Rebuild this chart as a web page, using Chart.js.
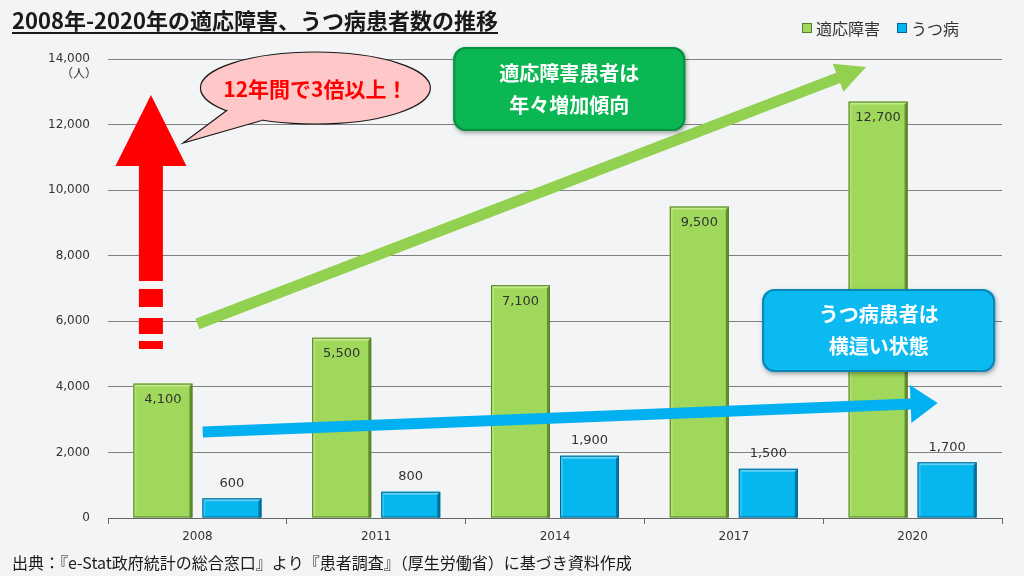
<!DOCTYPE html>
<html>
<head>
<meta charset="utf-8">
<script src="https://cdn.jsdelivr.net/npm/chart.js@4/dist/chart.umd.min.js"></script>
<style>
  html, body { margin: 0; padding: 0; background: #F3F4F6; }
  canvas { display: block; }
</style>
</head>
<body>
<canvas id="myChart" width="1024" height="576"></canvas>
<script>
// data
const years = ["2008", "2011", "2014", "2017", "2020"];
const adjustmentDisorder = [4100, 5500, 7100, 9500, 12700];
const depression = [600, 800, 1900, 1500, 1700];
const seriesNames = ["適応障害", "うつ病"];
const yMax = 14000;
const yStep = 2000;

const titleText = "2008年-2020年の適応障害、うつ病患者数の推移";
const sourceText = "出典：『e-Stat政府統計の総合窓口』より『患者調査』（厚生労働省）に基づき資料作成";
const unitText = "（人）";
const bubbleText = "12年間で3倍以上！";
const greenBoxText = ["適応障害患者は", "年々増加傾向"];
const blueBoxText = ["うつ病患者は", "横這い状態"];

const JP = '"Noto Sans CJK JP", "Noto Sans", sans-serif';
const NUM = '"DejaVu Sans", Verdana, sans-serif';

const GREEN = "#9FD85A", GREEN_DARK = "#557F26", GREEN_LIGHT = "#C3EB8C";
const BLUE = "#05B6EF", BLUE_DARK = "#05678F", BLUE_LIGHT = "#5FD3F7";

function fmt(v) {
  return v.toLocaleString("en-US");
}

// draw an arrow as one polygon
function arrow(ctx, x0, y0, x1, y1, shaft, headLen, headHalf, color) {
  const a = Math.atan2(y1 - y0, x1 - x0);
  const len = Math.hypot(x1 - x0, y1 - y0);
  ctx.save();
  ctx.translate(x0, y0);
  ctx.rotate(a);
  ctx.beginPath();
  ctx.moveTo(0, -shaft / 2);
  ctx.lineTo(len - headLen, -shaft / 2);
  ctx.lineTo(len - headLen, -headHalf);
  ctx.lineTo(len, 0);
  ctx.lineTo(len - headLen, headHalf);
  ctx.lineTo(len - headLen, shaft / 2);
  ctx.lineTo(0, shaft / 2);
  ctx.closePath();
  ctx.fillStyle = color;
  ctx.fill();
  ctx.restore();
}

function roundBox(ctx, cx, cy, w, h, r, fill, stroke, lines) {
  const x = cx - w / 2, y = cy - h / 2;
  ctx.save();
  ctx.shadowColor = "rgba(0,0,0,0.35)";
  ctx.shadowBlur = 4;
  ctx.shadowOffsetX = 1;
  ctx.shadowOffsetY = 2;
  ctx.beginPath();
  ctx.roundRect(x, y, w, h, r);
  ctx.fillStyle = fill;
  ctx.fill();
  ctx.restore();
  ctx.save();
  ctx.beginPath();
  ctx.roundRect(x + 1, y + 1, w - 2, h - 2, r);
  ctx.lineWidth = 2;
  ctx.strokeStyle = stroke;
  ctx.stroke();
  ctx.fillStyle = "#ffffff";
  ctx.font = "bold 20px " + JP;
  ctx.textAlign = "center";
  ctx.textBaseline = "middle";
  ctx.fillText(lines[0], cx, cy - 16);
  ctx.fillText(lines[1], cx, cy + 16);
  ctx.restore();
}

const backgroundPlugin = {
  id: "bg",
  beforeDraw(chart) {
    const ctx = chart.ctx;
    ctx.save();
    ctx.fillStyle = "#F3F4F6";
    ctx.fillRect(0, 0, chart.width, chart.height);
    ctx.restore();
  }
};

// bevel on bars + value labels
const barPlugin = {
  id: "bars",
  afterDatasetsDraw(chart) {
    const ctx = chart.ctx;
    chart.data.datasets.forEach((ds, di) => {
      const meta = chart.getDatasetMeta(di);
      const light = di === 0 ? GREEN_LIGHT : BLUE_LIGHT;
      const dark = di === 0 ? GREEN_DARK : BLUE_DARK;
      meta.data.forEach((bar, i) => {
        const l = bar.x - bar.width / 2, r = bar.x + bar.width / 2;
        const t = bar.y, b = bar.base, e = 3;
        ctx.save();
        ctx.fillStyle = light;
        ctx.beginPath();
        ctx.moveTo(l, t); ctx.lineTo(r, t); ctx.lineTo(r - e, t + e); ctx.lineTo(l + e, t + e);
        ctx.closePath(); ctx.fill();
        ctx.globalAlpha = 0.5;
        ctx.beginPath();
        ctx.moveTo(l, t); ctx.lineTo(l + e, t + e); ctx.lineTo(l + e, b); ctx.lineTo(l, b);
        ctx.closePath(); ctx.fill();
        ctx.globalAlpha = 0.8;
        ctx.fillStyle = dark;
        ctx.beginPath();
        ctx.moveTo(r, t); ctx.lineTo(r, b); ctx.lineTo(r - e, b); ctx.lineTo(r - e, t + e);
        ctx.closePath(); ctx.fill();
        ctx.globalAlpha = 1;
        ctx.strokeStyle = dark;
        ctx.lineWidth = 1;
        ctx.strokeRect(l + 0.5, t + 0.5, bar.width - 1, b - t - 1);
        ctx.fillStyle = "#333333";
        ctx.font = "13px " + NUM;
        ctx.textAlign = "center";
        ctx.textBaseline = "middle";
        const ly = di === 0 ? t + 16 : t - 15;
        ctx.fillText(fmt(ds.data[i]), bar.x, ly);
        ctx.restore();
      });
    });
  }
};

// title, legend, source, unit and callouts
const overlayPlugin = {
  id: "overlay",
  afterDraw(chart) {
    const ctx = chart.ctx;
    const xs = chart.scales.x, ys = chart.scales.y;
    const P = (i, v) => [xs.getPixelForValue(i), ys.getPixelForValue(v)];

    ctx.save();
    // title
    ctx.fillStyle = "#1a1a1a";
    ctx.font = "bold 22px " + JP;
    ctx.textBaseline = "middle";
    ctx.textAlign = "left";
    ctx.fillText(titleText, 12, 21);
    const tw = ctx.measureText(titleText).width;
    ctx.fillRect(12, 32, tw, 2);

    // legend
    ctx.font = "16px " + JP;
    let lx = 802;
    chart.data.datasets.forEach((ds) => {
      ctx.fillStyle = ds.backgroundColor;
      ctx.fillRect(lx, 23, 10, 10);
      ctx.strokeStyle = ds.borderColor;
      ctx.strokeRect(lx + 0.5, 23.5, 9, 9);
      ctx.fillStyle = "#333333";
      ctx.fillText(ds.label, lx + 14, 29);
      lx += 14 + ctx.measureText(ds.label).width + 17;
    });

    // unit
    ctx.font = "12px " + JP;
    ctx.textAlign = "right";
    ctx.fillStyle = "#333333";
    ctx.fillText(unitText, 97, 73);

    // source
    ctx.font = "16px " + JP;
    ctx.textAlign = "left";
    ctx.fillStyle = "#1a1a1a";
    ctx.fillText(sourceText, 12, 563);
    ctx.restore();

    // green trend arrow
    let a = P(0, 5917), b = P(3.74, 13756);
    arrow(ctx, a[0], a[1], b[0], b[1], 11, 30, 15, "#92D050");
    // blue trend arrow
    a = P(0.03, 2623); b = P(4.14, 3508);
    arrow(ctx, a[0], a[1], b[0], b[1], 11, 27, 19, "#00B0F0");

    // red up arrow with dashes
    ctx.save();
    ctx.fillStyle = "#FF0000";
    const rx = xs.getPixelForValue(-0.26);
    const tip = ys.getPixelForValue(12900), headBase = ys.getPixelForValue(10740);
    ctx.beginPath();
    ctx.moveTo(rx, tip);
    ctx.lineTo(rx + 35.5, headBase);
    ctx.lineTo(rx - 35.5, headBase);
    ctx.closePath();
    ctx.fill();
    const segs = [[10740, 7229], [6985, 6436], [6100, 5612], [5399, 5155]];
    segs.forEach((s) => {
      const y0 = ys.getPixelForValue(s[0]), y1 = ys.getPixelForValue(s[1]);
      ctx.fillRect(rx - 12, y0, 24, y1 - y0);
    });
    ctx.restore();

    // speech bubble
    ctx.save();
    const c = P(0.66, 13115);
    const tp = P(-0.08, 11438);
    ctx.beginPath();
    ctx.ellipse(c[0], c[1], 115, 36, 0, 0, Math.PI * 2);
    ctx.fillStyle = "#FFC8C8";
    ctx.fill();
    ctx.lineWidth = 1.2;
    ctx.strokeStyle = "#1a1a1a";
    ctx.stroke();
    // tail
    ctx.beginPath();
    ctx.moveTo(c[0] - 88, c[1] + 22);
    ctx.lineTo(tp[0], tp[1]);
    ctx.lineTo(c[0] - 52, c[1] + 32);
    ctx.fillStyle = "#FFC8C8";
    ctx.fill();
    ctx.stroke();
    ctx.beginPath();
    ctx.moveTo(c[0] - 87, c[1] + 21);
    ctx.lineTo(c[0] - 53, c[1] + 31);
    ctx.lineWidth = 3;
    ctx.strokeStyle = "#FFC8C8";
    ctx.stroke();
    ctx.fillStyle = "#FF0000";
    ctx.font = "bold 21px " + JP;
    ctx.textAlign = "center";
    ctx.textBaseline = "middle";
    ctx.fillText(bubbleText, c[0], c[1] + 1);
    ctx.restore();

    // callout boxes
    const g = P(2.08, 13085);
    roundBox(ctx, g[0], g[1], 232, 84, 12, "#0BB752", "#0A8E3F", greenBoxText);
    const bl = P(3.81, 5719);
    roundBox(ctx, bl[0], bl[1], 233, 83, 12, "#0CBAF2", "#0A86B4", blueBoxText);
  }
};

new Chart(document.getElementById("myChart"), {
  type: "bar",
  data: {
    labels: years,
    datasets: [
      {
        label: seriesNames[0],
        data: adjustmentDisorder,
        backgroundColor: GREEN,
        borderColor: GREEN_DARK,
        borderWidth: 0,
        barPercentage: 0.855,
        categoryPercentage: 0.772,
      },
      {
        label: seriesNames[1],
        data: depression,
        backgroundColor: BLUE,
        borderColor: BLUE_DARK,
        borderWidth: 0,
        barPercentage: 0.855,
        categoryPercentage: 0.772,
      },
    ],
  },
  options: {
    responsive: false,
    animation: false,
    devicePixelRatio: 1,
    layout: { padding: { top: 59, right: 22, left: 0, bottom: 0 } },
    plugins: {
      legend: { display: false },
      tooltip: { enabled: false },
    },
    scales: {
      x: {
        grid: {
          display: true,
          drawOnChartArea: false,
          drawTicks: true,
          tickLength: 6,
          color: "#666666",
          offset: true,
        },
        border: { display: true, color: "#666666" },
        ticks: { color: "#333333", font: { family: NUM, size: 12 }, padding: 6 },
        afterFit(scale) { scale.height = 58; },
      },
      y: {
        min: 0,
        max: yMax,
        ticks: {
          stepSize: yStep,
          padding: 18,
          color: "#333333",
          font: { family: NUM, size: 12 },
          callback: (v) => fmt(v),
        },
        grid: { color: "#808080", drawTicks: false },
        border: { display: false },
        afterFit(scale) { scale.width = 108; },
      },
    },
  },
  plugins: [backgroundPlugin, barPlugin, overlayPlugin],
});
</script>
</body>
</html>
